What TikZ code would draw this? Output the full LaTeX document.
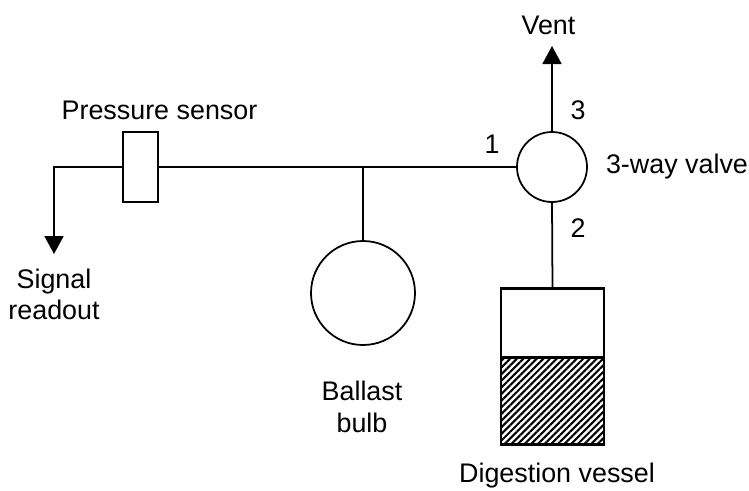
\documentclass[tikz,border=0pt]{standalone}
\usepackage{fontspec}
\setmainfont{Liberation Sans}
\usepackage{tikz}
\usetikzlibrary{positioning,arrows.meta,patterns.meta}
\tikzset{
  part/.style ={draw=black, fill=white, line width=1pt, outer sep=0pt, inner sep=0pt},
  bulb/.style ={part, circle},
  tank/.style ={part, rectangle, line width=1.3pt, minimum width=2.06cm},
  lbl/.style  ={font=\fontsize{15.3}{18}\selectfont, align=center, inner sep=0pt, text=black},
  pipe/.style ={draw=black, line width=1pt},
  arr/.style  ={pipe, -{Triangle[width=3.8mm, length=3.6mm]}},
}
\begin{document}
\begin{tikzpicture}
  \useasboundingbox (0,0) rectangle (14.98,9.8);
  % parts
  \node[part, minimum width=7mm, minimum height=14mm] (sensor) at (2.81,6.46) {};
  \node[bulb, minimum size=14mm] (valve) at (11.04,6.46) {};
  \node[bulb, minimum size=20.8mm] (ballast) at (7.26,3.94) {};
  \node[tank, minimum height=3.12cm] (vessel) at (11.05,2.47) {};
  \node[tank, minimum height=1.74cm, anchor=south, pattern={Lines[angle=45, distance=0.94mm, line width=0.42mm]}] (liquid) at (vessel.south) {};
  % free ends
  \coordinate (corner) at (1.08,6.46);
  \coordinate (signal) at (1.08,4.72);
  \coordinate (vent) at (11.04,8.88);
  \coordinate (tee) at (ballast.north |- sensor.east);
  % pipes
  \draw[pipe] (sensor.east) -- (valve.west);
  \draw[pipe] (tee) -- (ballast.north);
  \draw[pipe] (valve.south) -- (vessel.north);
  \draw[arr] (valve.north) -- (vent);
  \draw[arr] (sensor.west) -- (corner) -- (signal);
  % labels
  \node[lbl] (sensorlbl) at (3.19,7.6) {Pressure sensor};
  \node[lbl] (ventlbl) at (10.97,9.3) {Vent};
  \node[lbl] (valvelbl) at (13.54,6.46) {3-way valve};
  \node[lbl] (port1) at (9.84,6.91) {1};
  \node[lbl] (port2) at (11.56,5.24) {2};
  \node[lbl] (port3) at (11.56,7.6) {3};
  \node[lbl] (signallbl) at (1.08,3.91) {Signal\\readout};
  \node[lbl] (ballastlbl) at (7.24,1.66) {Ballast\\bulb};
  \node[lbl] (vessellbl) at (11.14,0.29) {Digestion vessel};
\end{tikzpicture}
\end{document}
